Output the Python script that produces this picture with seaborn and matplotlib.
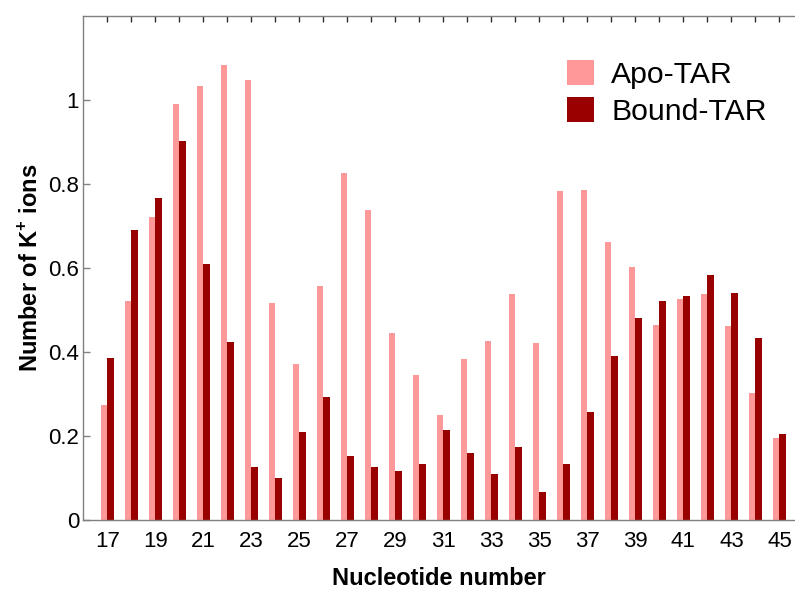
import matplotlib
matplotlib.use("Agg")
import matplotlib.pyplot as plt
import seaborn as sns
import pandas as pd
from matplotlib.patches import Patch

# Nucleotide positions along the TAR RNA
nucleotides = list(range(17, 46))

# Average number of K+ ions per nucleotide
apo_tar = [0.273, 0.522, 0.720, 0.990, 1.033, 1.083, 1.047, 0.516, 0.372, 0.557,
           0.825, 0.738, 0.446, 0.345, 0.251, 0.383, 0.427, 0.538, 0.421, 0.782,
           0.785, 0.661, 0.602, 0.465, 0.527, 0.537, 0.461, 0.303, 0.196]
bound_tar = [0.385, 0.690, 0.767, 0.902, 0.608, 0.423, 0.125, 0.099, 0.210, 0.293,
             0.152, 0.127, 0.117, 0.134, 0.213, 0.160, 0.110, 0.174, 0.066, 0.134,
             0.258, 0.390, 0.480, 0.521, 0.533, 0.582, 0.539, 0.432, 0.204]

series_names = ["Apo-TAR", "Bound-TAR"]
series_colors = ["#ff9999", "#990000"]

y_ticks = [0, 0.2, 0.4, 0.6, 0.8, 1.0]
y_tick_labels = ["0", "0.2", "0.4", "0.6", "0.8", "1"]

df = pd.DataFrame({
    "Nucleotide": [str(n) for n in nucleotides] * 2,
    "Ions": apo_tar + bound_tar,
    "Form": [series_names[0]] * len(nucleotides) + [series_names[1]] * len(nucleotides),
})

sns.set_theme(style="white")
plt.rcParams["font.family"] = ["Liberation Sans", "DejaVu Sans"]
plt.rcParams["text.color"] = "black"
plt.rcParams["axes.labelcolor"] = "black"
plt.rcParams["mathtext.fontset"] = "custom"
plt.rcParams["mathtext.rm"] = "Liberation Sans:bold"
plt.rcParams["mathtext.bf"] = "Liberation Sans:bold"

fig = plt.figure(figsize=(7.95, 5.90), dpi=100)
ax = fig.add_axes([83.3 / 795, 70 / 590, (795 - 83.3) / 795, (520 - 15.7) / 590])

sns.barplot(data=df, x="Nucleotide", y="Ions", hue="Form",
            order=[str(n) for n in nucleotides], hue_order=series_names,
            palette=series_colors, width=0.55, dodge=True, saturation=1,
            errorbar=None, ax=ax, legend=False, linewidth=0)

ax.set_xlim(-1, 28.65)
ax.set_ylim(0, 1.2)

# ticks at every nucleotide, labels on odd ones
ax.set_xticks(range(len(nucleotides)))
ax.set_xticklabels([str(n) if n % 2 == 1 else "" for n in nucleotides])
ax.set_yticks(y_ticks)
ax.set_yticklabels(y_tick_labels)

spine_color = "#808080"
for side in ["left", "top", "bottom"]:
    ax.spines[side].set_visible(True)
    ax.spines[side].set_color(spine_color)
    ax.spines[side].set_linewidth(1.0)
ax.spines["right"].set_visible(False)

ax.tick_params(axis="x", which="both", direction="in", length=4.5, width=1,
               color="#303030", top=True, bottom=True, pad=8,
               labelsize=16, labelcolor="black")
ax.tick_params(axis="y", which="both", direction="in", length=5, width=1,
               color=spine_color, left=True, right=False, pad=3,
               labelsize=16, labelcolor="black")

ax.set_xlabel("Nucleotide number", fontsize=17, fontweight="bold",
              labelpad=11, color="black")
ax.set_ylabel(r"Number of K$^{+}$ ions", fontsize=17, fontweight="bold",
              labelpad=4, color="black")

handles = [Patch(facecolor=c, edgecolor="none") for c in series_colors]
leg = ax.legend(handles, series_names, loc="upper left",
                bbox_to_anchor=(566.7 / 795, 1 - 60 / 590), bbox_transform=fig.transFigure,
                frameon=False, fontsize=21.7, handlelength=0.92, handleheight=0.92,
                handletextpad=0.55, labelspacing=0.25, borderpad=0, borderaxespad=0)
for t in leg.get_texts():
    t.set_color("black")

fig.savefig("out.png", dpi=100)
